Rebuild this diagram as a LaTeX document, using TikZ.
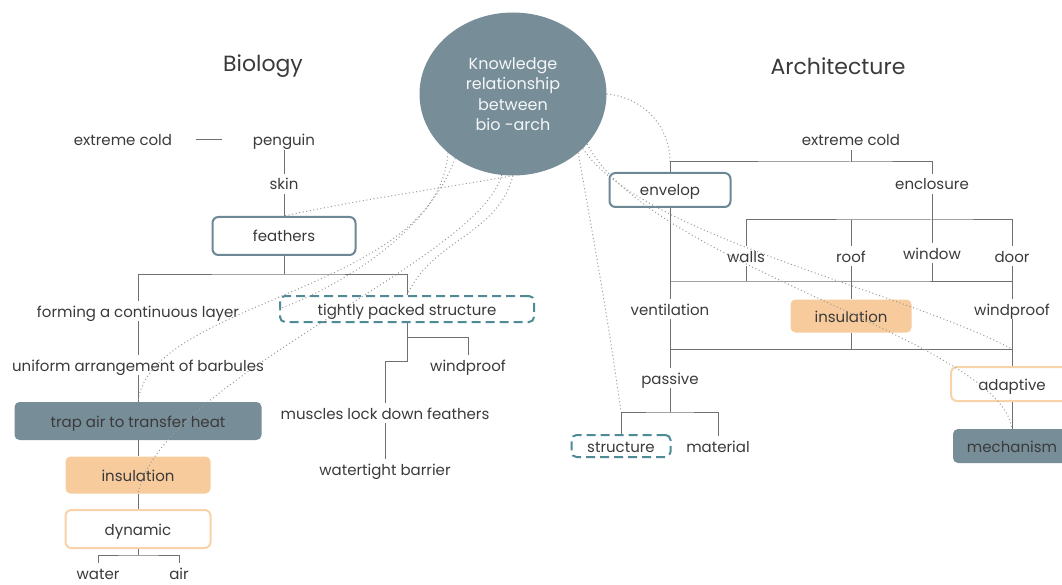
\documentclass[tikz,border=0pt]{standalone}
\usepackage{fontspec}
\setmainfont{Poppins}
\usetikzlibrary{shapes.geometric}

\definecolor{slate}{HTML}{778E99}
\definecolor{slateline}{HTML}{6C8894}
\definecolor{tealline}{HTML}{4F8B96}
\definecolor{peach}{HTML}{F8CB9C}
\definecolor{peachline}{HTML}{F8D2A8}
\definecolor{ink}{HTML}{3A3A3A}
\definecolor{wirecol}{HTML}{707070}
\definecolor{dotcol}{HTML}{9A9A9A}

\tikzset{
  plain/.style={text=ink, font=\fontsize{15}{17}\selectfont, inner sep=3pt, text height=13pt, text depth=1pt},
  outlined/.style={plain, draw=slateline, line width=2pt, rounded corners=6pt, fill=white},
  dashbox/.style={plain, draw=tealline, line width=2pt, dash pattern=on 9pt off 5pt, rounded corners=5pt},
  darkbox/.style={plain, fill=slate, rounded corners=5pt},
  peachbox/.style={plain, fill=peach, rounded corners=5pt},
  softbox/.style={plain, draw=peachline, line width=2pt, fill=white, rounded corners=6pt},
  wire/.style={draw=wirecol, line width=1pt},
  link/.style={draw=dotcol, line width=1pt, dash pattern=on 1pt off 2.6pt},
  title/.style={text=ink, font=\fontsize{22}{24}\selectfont}
}

\begin{document}
\begin{tikzpicture}[x=1pt,y=-1pt]
\clip (0,0) rectangle (1062,585);
\node[title] (bio) at (263,66) {Biology};
\node[title] (arch) at (838,66) {Architecture};
\node[ellipse, fill=slate, minimum width=187pt, minimum height=163pt, text=white!92!slate, align=center, font=\fontsize{16}{20.5}\selectfont] (know) at (513,94) {Knowledge\\relationship\\between\\bio -arch};

% biology side
\node[plain] (bcold) at (123,140) {extreme cold};
\node[plain] (penguin) at (284,140) {penguin};
\node[plain] (skin) at (284,184) {skin};
\node[outlined, minimum width=143pt, minimum height=38pt] (feathers) at (284,236) {feathers};
\node[plain] (layer) at (138,311) {forming a continuous layer};
\node[dashbox, minimum width=254pt, minimum height=26pt] (tight) at (407,309) {tightly packed structure};
\node[plain] (barbules) at (138,365) {uniform arrangement of barbules};
\node[darkbox, minimum width=247pt, minimum height=38pt] (trap) at (138,421) {trap air to transfer heat};
\node[peachbox, minimum width=145pt, minimum height=37pt] (binsul) at (138,475) {insulation};
\node[softbox, minimum width=145pt, minimum height=38pt] (dynamic) at (138,529) {dynamic};
\node[plain] (water) at (98,573) {water};
\node[plain] (air) at (179,573) {air};
\node[plain] (bwind) at (468,365) {windproof};
\node[plain] (muscles) at (385,413) {muscles lock down feathers};
\node[plain] (barrier) at (385,469) {watertight barrier};

% architecture side
\node[plain] (acold) at (851,140) {extreme cold};
\node[outlined, minimum width=121pt, minimum height=34pt] (envelop) at (670,190) {envelop};
\node[plain] (enclosure) at (932,184) {enclosure};
\node[plain] (walls) at (746,256) {walls};
\node[plain] (roof) at (851,256) {roof};
\node[plain] (window) at (932,253) {window};
\node[plain] (door) at (1012,256) {door};
\node[plain] (vent) at (670,309) {ventilation};
\node[peachbox, minimum width=121pt, minimum height=33pt] (ainsul) at (851,316) {insulation};
\node[plain] (awind) at (1012,309) {windproof};
\node[plain] (passive) at (670,378) {passive};
\node[softbox, minimum width=122pt, minimum height=34pt] (adaptive) at (1012,384) {adaptive};
\node[dashbox, minimum width=99pt, minimum height=22pt] (structure) at (621,446) {structure};
\node[plain] (material) at (718,446) {material};
\node[darkbox, minimum width=118pt, minimum height=34pt] (mechanism) at (1012,446) {mechanism};

% junctions
\coordinate (bfeat) at (284,274);
\coordinate (btop) at (407,337);
\coordinate (bmid) at (407,361);
\coordinate (bdyn) at (138,555);
\coordinate (envj) at (670,162);
\coordinate (acj) at (851,162);
\coordinate (encj) at (932,220);
\coordinate (roofj) at (851,281);
\coordinate (insj) at (851,349);
\coordinate (adaptj) at (1012,349);
\coordinate (passj) at (670,412);
\coordinate (structj) at (621,412);

% tree lines
\draw[wire, shorten <=21pt, shorten >=28pt] (bcold) -- (penguin);
\draw[wire] (penguin) -- (skin);
\draw[wire] (skin) -- (feathers);
\draw[wire] (feathers) -- (bfeat);
\draw[wire] (layer) |- (bfeat) -| (tight);
\draw[wire] (layer) -- (barbules);
\draw[wire] (barbules) -- (trap);
\draw[wire] (trap) -- (binsul);
\draw[wire] (binsul) -- (dynamic);
\draw[wire] (dynamic) -- (bdyn);
\draw[wire] (water) |- (bdyn) -| (air);
\draw[wire] (tight) -- (bmid) -| (muscles);
\draw[wire] (btop) -| (bwind);
\draw[wire] (muscles) -- (barrier);

\draw[wire] (acold) -- (acj);
\draw[wire] (envelop) -- (envj) -- (acj) -| (enclosure);
\draw[wire] (enclosure) -- (encj);
\draw[wire] (walls) |- (encj) -| (door);
\draw[wire] (roof) -- (roof |- encj);
\draw[wire] (window) -- (encj);
\draw[wire] (envelop) -- (vent);
\draw[wire] (vent |- roofj) -- (roofj) -- (roofj -| door);
\draw[wire] (walls) -- (walls |- roofj);
\draw[wire] (roof) -- (ainsul);
\draw[wire] (window) -- (window |- roofj);
\draw[wire] (door) -- (awind);
\draw[wire] (vent) -- (passive);
\draw[wire] (ainsul) -- (insj);
\draw[wire] (vent |- insj) -- (adaptj);
\draw[wire] (awind) -- (adaptive);
\draw[wire] (passive) -- (passj);
\draw[wire] (structure) -- (structj) -- (passj) -| (material);
\draw[wire] (adaptive) -- (mechanism);

% dotted links from the centre
\draw[link] (know.south) to[out=190,in=12] (feathers.north);
\draw[link] (know.south) to[out=255,in=65] (tight.north);
\draw[link] (know.222) .. controls (440,290) and (150,300) .. (trap.north);
\draw[link] (know.228) .. controls (425,240) and (330,290) .. (tight.west);
\draw[link] (know.262) .. controls (480,260) and (160,380) .. (binsul.south);
\draw[link] (know.east) to[out=-5,in=90] (envj);
\draw[link] (know.318) to[out=280,in=98] (structj);
\draw[link] (know.322) .. controls (640,235) and (900,290) .. (adaptj);
\draw[link] (know.326) .. controls (650,265) and (1000,340) .. (mechanism.north);
\end{tikzpicture}
\end{document}
